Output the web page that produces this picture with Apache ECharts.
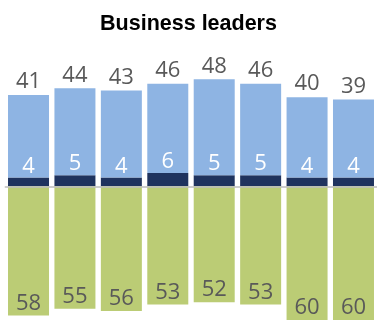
<!DOCTYPE html>
<html>
<head>
<meta charset="utf-8">
<style>
  html, body { margin: 0; padding: 0; background: #fff; }
  #chart { width: 377px; height: 320px; }
</style>
<script src="https://cdn.jsdelivr.net/npm/echarts@6/dist/echarts.min.js"></script>
</head>
<body>
<div id="chart"></div>
<script>
// Share of business leaders, per group
const categories = ['G1', 'G2', 'G3', 'G4', 'G5', 'G6', 'G7', 'G8'];
const favorableTotal = [41, 44, 43, 46, 48, 46, 40, 39];
const veryFavorable = [4, 5, 4, 6, 5, 5, 4, 4];
const unfavorable = [58, 55, 56, 53, 52, 53, 60, 60];

// light-blue segment sits on top of the dark one; together they reach the total
const somewhatFavorable = favorableTotal.map((t, i) => t - veryFavorable[i]);

const TITLE_FONT = '"Liberation Sans", Arial, sans-serif';
const LABEL_FONT = '"Open Sans", sans-serif';
const GREY = '#595959';

const chart = echarts.init(document.getElementById('chart'));
chart.setOption({
  animation: false,
  title: {
    text: 'Business leaders',
    left: 'center',
    top: 8,
    textStyle: { fontFamily: TITLE_FONT, fontWeight: 'bold', fontSize: 21.5, color: '#000' }
  },
  grid: { left: 5.3, right: 0.3, top: 74.9, height: 246, containLabel: false },
  xAxis: {
    type: 'category',
    data: categories,
    z: 10,
    axisLine: { show: true, onZero: true, lineStyle: { color: '#bdbdbd', width: 1.5 } },
    axisTick: { show: false },
    axisLabel: { show: false }
  },
  yAxis: {
    type: 'value',
    min: -60,
    max: 50,
    show: false,
    splitLine: { show: false }
  },
  series: [
    {
      name: 'Very favorable',
      type: 'bar',
      stack: 'views',
      barWidth: 41,
      data: veryFavorable,
      itemStyle: { color: '#1F335E' },
      label: {
        show: true,
        position: 'top',
        distance: 0,
        color: '#fff',
        fontFamily: LABEL_FONT,
        fontSize: 22
      }
    },
    {
      name: 'Somewhat favorable',
      type: 'bar',
      stack: 'views',
      barWidth: 41,
      data: somewhatFavorable,
      itemStyle: { color: '#8EB4E3' },
      label: {
        show: true,
        position: 'top',
        distance: 2,
        color: GREY,
        fontFamily: LABEL_FONT,
        fontSize: 22,
        formatter: p => favorableTotal[p.dataIndex]
      }
    },
    {
      name: 'Unfavorable',
      type: 'bar',
      stack: 'views',
      barWidth: 41,
      data: unfavorable.map(v => -v),
      itemStyle: { color: '#BBCC75' },
      label: {
        show: true,
        position: 'insideBottom',
        distance: 1,
        color: GREY,
        fontFamily: LABEL_FONT,
        fontSize: 22,
        formatter: p => unfavorable[p.dataIndex]
      }
    }
  ]
});
</script>
</body>
</html>
